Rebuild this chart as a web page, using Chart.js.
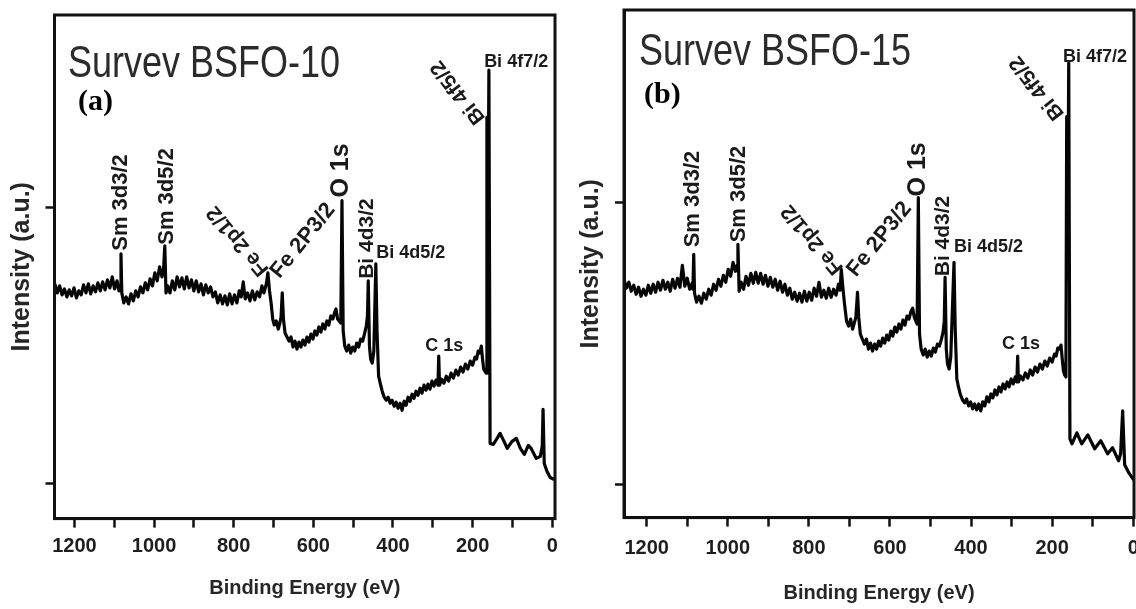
<!DOCTYPE html>
<html>
<head>
<meta charset="utf-8">
<script src="https://cdn.jsdelivr.net/npm/chart.js@4.4.1/dist/chart.umd.min.js"></script>
<style>
  html, body { margin: 0; padding: 0; background: #fff; overflow: hidden; }
  body { width: 1136px; height: 609px; position: relative; }
  #chartA { position: absolute; left: 0; top: 0; }
  #chartB { position: absolute; left: 566px; top: 0; }
</style>
</head>
<body>
<canvas id="chartA" width="568" height="609"></canvas>
<canvas id="chartB" width="600" height="609"></canvas>
<script>
// Survey spectrum BSFO-10 (binding energy in eV, intensity in a.u.)
const energyA = [1249,1243,1237,1231,1225,1219,1213,1207,1201,1195,1189,1183,1177,1171,1165,1159,1153,1147,1141,1135,1129,1123,1117,1111,1105,1099,1093,1088,1085,1083,1081,1076,1070,1064,1058,1052,1046,1040,1034,1028,1022,1016,1010,1004,998,992,986,980,976,973,970,966,960,954,948,942,936,930,924,918,912,906,900,894,888,882,876,870,864,858,852,846,840,834,828,822,816,810,804,798,792,786,781,776,771,765,759,753,747,741,735,729,724,718,714,710,706,702,698,693,688,684,681,678,675,671,666,661,656,651,646,641,636,631,626,621,616,611,606,601,596,591,586,581,576,571,566,561,556,551,546,543,539,535,531,528,525,521,516,511,506,501,496,491,486,481,476,471,467,464,462,459,456,452,448,443,440,436,432,427,422,417,412,407,402,397,392,387,382,377,372,367,362,357,352,347,342,337,332,327,322,317,312,307,302,297,292,287,285,283,278,272,266,260,254,248,242,236,230,224,218,212,206,200,194,190,186,182,178,175,172,169,166,164,162,159,156,148,140,131,121,113,101,90,80,70,60,53,40,30,25,23,20,13,5,-5];
const intensityA = [234,225,232,223,229,221,228,222,230,220,227,223,233,225,234,224,232,226,235,227,236,228,238,230,241,229,237,227,231,264,225,215,221,214,224,217,227,221,231,225,235,228,239,232,245,237,251,241,249,272,225,232,225,237,228,241,231,240,229,241,230,238,227,237,226,234,223,233,225,231,221,226,215,223,214,222,213,224,214,223,215,227,221,236,219,225,217,227,218,226,221,232,225,234,245,227,215,199,193,197,189,195,201,225,199,185,181,177,181,171,177,169,176,171,178,173,181,176,184,179,187,183,191,186,194,189,197,193,202,199,206,209,199,197,195,317,187,172,167,173,165,171,167,175,171,179,177,185,192,202,237,172,159,155,167,254,187,142,135,127,121,118,121,115,118,112,116,110,115,108,117,113,121,117,124,120,127,123,130,125,133,128,134,129,137,132,138,133,162,133,139,135,142,137,145,140,148,143,151,146,154,149,157,153,161,159,167,165,172,159,149,147,145,400,240,447,75,74,79,85,77,70,77,80,70,64,73,70,60,62,72,109,55,47,41,39];

// Survey spectrum BSFO-15
const energyB = [1256,1250,1244,1238,1232,1226,1220,1214,1208,1202,1196,1190,1184,1178,1172,1166,1160,1154,1148,1142,1136,1130,1124,1118,1112,1106,1100,1094,1088,1086,1084,1082,1077,1071,1065,1059,1053,1047,1041,1035,1029,1023,1017,1011,1005,999,993,987,981,977,975,972,967,961,955,949,943,937,931,925,919,913,907,901,895,889,883,877,871,865,859,853,847,841,835,829,823,817,811,805,799,793,787,781,775,769,763,757,751,745,739,733,727,723,720,716,712,707,702,697,692,688,684,680,677,673,668,663,658,653,648,643,638,633,628,623,618,613,608,603,598,593,588,583,578,573,568,563,558,553,548,544,540,536,533,530,527,523,518,513,508,503,498,493,488,483,478,473,469,466,464,461,458,454,450,442,439,435,431,426,421,416,411,406,401,396,391,386,381,376,371,366,361,356,351,346,341,336,331,326,321,316,311,306,301,296,291,287,285,283,278,272,266,260,254,248,242,236,230,224,218,212,206,200,194,190,186,182,178,175,172,169,166,164,162,159,156,151,139,127,112,95,80,63,51,36,31,26,21,11,1,-2];
const intensityB = [239,230,236,227,233,224,231,222,229,223,233,225,234,226,236,228,238,229,236,227,239,230,240,231,253,232,240,229,235,229,264,225,216,222,215,225,219,229,223,234,228,239,232,243,236,249,242,256,247,253,274,227,236,229,242,233,245,235,246,235,245,234,243,232,241,231,239,228,237,226,234,223,230,219,226,217,225,216,227,217,226,218,230,222,236,221,228,220,230,221,229,223,234,228,249,230,214,197,192,199,189,195,201,226,201,184,179,174,179,169,175,167,174,169,177,172,180,175,183,178,187,182,191,186,194,189,198,193,202,199,207,210,201,197,194,321,184,169,163,169,161,167,162,170,166,174,172,179,186,197,241,169,154,149,161,256,189,139,131,123,118,115,119,112,116,109,114,108,114,107,116,112,121,116,124,120,128,123,131,126,134,129,136,131,139,134,141,136,162,136,142,138,145,140,148,143,151,146,154,149,157,152,160,156,164,162,170,169,173,159,147,143,141,402,242,456,79,74,85,74,83,69,77,64,70,57,64,107,53,45,39,38];

// y tick positions (a.u.) on each panel
const yTicksA = [35, 310];
const yTicksB = [33, 316];

// peak assignments: label, binding energy, intensity where the label sits
const peakNames = ['Sm 3d3/2', 'Sm 3d5/2', 'Fe 2p1/2', 'Fe 2P3/2', 'O 1s', 'Bi 4d3/2', 'Bi 4d5/2', 'C 1s', 'Bi 4f5/2', 'Bi 4f7/2'];
const peakEnergyA = [1083, 968, 789, 626, 530, 465, 442, 271, 236, 171];
const peakLevelA = [267, 273, 277, 277, 320, 239, 265, 172, 425, 455];
const peakEnergyB = [1086, 973, 791, 626, 530, 469, 442, 277, 237, 173];
const peakLevelB = [271, 276, 279, 279, 322, 242, 271, 174, 431, 462];

// how each label is drawn (same for both panels)
const peakStyle = [
  { rot: -90, align: 'left', size: 22 },
  { rot: -90, align: 'left', size: 22 },
  { rot: -130, align: 'center', size: 21 },
  { rot: -51, align: 'center', size: 22 },
  { rot: -90, align: 'left', size: 25 },
  { rot: -90, align: 'left', size: 21 },
  { rot: 0, align: 'left', size: 18 },
  { rot: 0, align: 'center', size: 18 },
  { rot: -128, align: 'center', size: 21 },
  { rot: 0, align: 'left', size: 18 },
];

const FONT = '"Liberation Sans", Arial, sans-serif';

function makeDecor(cfg) {
  return {
    id: 'xpsDecor',
    afterDatasetsDraw(chart) {
      const { ctx, chartArea, scales } = chart;
      ctx.save();
      // closed frame around the plot
      ctx.strokeStyle = '#111';
      ctx.lineWidth = 3;
      ctx.strokeRect(chartArea.left, chartArea.top, chartArea.right - chartArea.left, chartArea.bottom - chartArea.top);

      // sample name, condensed
      ctx.fillStyle = '#2b2b2b';
      ctx.font = '45px ' + FONT;
      ctx.textAlign = 'left';
      ctx.textBaseline = 'alphabetic';
      ctx.save();
      ctx.translate(chartArea.left + cfg.nameDx, chartArea.top + cfg.nameDy);
      ctx.scale(0.8, 1);
      ctx.fillText(cfg.name, 0, 0);
      ctx.restore();

      ctx.fillStyle = '#000';
      ctx.font = 'bold 30px "Liberation Serif", "Times New Roman", serif';
      ctx.fillText(cfg.panel, chartArea.left + cfg.panelDx, chartArea.top + cfg.panelDy);

      // peak labels
      ctx.fillStyle = '#1a1a1a';
      ctx.textBaseline = 'middle';
      peakNames.forEach((name, i) => {
        const st = peakStyle[i];
        const px = scales.x.getPixelForValue(cfg.energies[i]);
        const py = scales.y.getPixelForValue(cfg.levels[i]);
        ctx.save();
        ctx.translate(px, py);
        ctx.rotate(st.rot * Math.PI / 180);
        ctx.font = 'bold ' + st.size + 'px ' + FONT;
        ctx.textAlign = st.align;
        ctx.fillText(name, 0, 0);
        ctx.restore();
      });
      ctx.restore();
    },
  };
}

function makeChart(id, energy, intensity, cfg) {
  const tickGrid = {
    display: true,
    drawOnChartArea: false,
    drawTicks: true,
    tickLength: 9,
    tickWidth: 2.5,
    tickColor: '#111',
  };
  const frame = { display: true, color: '#111', width: 3 };

  return new Chart(document.getElementById(id).getContext('2d'), {
    type: 'line',
    data: {
      datasets: [{
        data: energy.map((e, i) => ({ x: e, y: intensity[i] })),
        borderColor: '#050505',
        borderWidth: 3.2,
        borderJoinStyle: 'round',
        pointRadius: 0,
        tension: 0,
        fill: false,
      }],
    },
    options: {
      responsive: false,
      animation: false,
      layout: { padding: { top: cfg.padTop, right: cfg.padRight, left: 0, bottom: 0 } },
      plugins: {
        legend: { display: false },
        tooltip: { enabled: false },
      },
      scales: {
        x: {
          type: 'linear',
          reverse: true,
          min: cfg.xMin,
          max: cfg.xMax,
          ticks: {
            stepSize: 100,
            includeBounds: false,
            autoSkip: false,
            maxRotation: 0,
            padding: cfg.xLabelPad,
            color: '#1e1e1e',
            font: { family: FONT, size: 20, weight: 'bold' },
            callback: (v) => (v % 200 === 0 ? String(v) : ''),
          },
          grid: tickGrid,
          border: frame,
          title: {
            display: true,
            text: 'Binding Energy (eV)',
            color: '#262626',
            font: { family: FONT, size: 20, weight: 'bold' },
            padding: { top: 10.4, bottom: cfg.xTitlePadBottom },
          },
        },
        y: {
          type: 'linear',
          min: 0,
          max: cfg.yMax,
          afterBuildTicks: (axis) => { axis.ticks = cfg.yTicks.map((v) => ({ value: v })); },
          ticks: { display: false },
          grid: tickGrid,
          border: frame,
          title: {
            display: true,
            text: 'Intensity (a.u.)',
            color: '#262626',
            font: { family: FONT, size: 25, weight: 'bold', lineHeight: 1 },
            padding: { top: cfg.yTitlePadTop, bottom: cfg.yTitlePadBottom },
          },
        },
      },
    },
    plugins: [makeDecor(cfg)],
  });
}

makeChart('chartA', energyA, intensityA, {
  name: 'Survev BSFO-10', panel: '(a)',
  nameDx: 13.5, nameDy: 62, panelDx: 23.5, panelDy: 95,
  energies: peakEnergyA, levels: peakLevelA,
  xMin: -7, xMax: 1250, yMax: 502, yTicks: yTicksA,
  padTop: 15, padRight: 13,
  xLabelPad: 7.0, xTitlePadBottom: 9,
  yTitlePadTop: 10, yTitlePadBottom: 10.5,
});

makeChart('chartB', energyB, intensityB, {
  name: 'Survev BSFO-15', panel: '(b)',
  nameDx: 15, nameDy: 55, panelDx: 20, panelDy: 93,
  energies: peakEnergyB, levels: peakLevelB,
  xMin: -2, xMax: 1256, yMax: 509, yTicks: yTicksB,
  padTop: 10, padRight: 32,
  xLabelPad: 10.0, xTitlePadBottom: 4,
  yTitlePadTop: 12.5, yTitlePadBottom: 11.5,
});
</script>
</body>
</html>
